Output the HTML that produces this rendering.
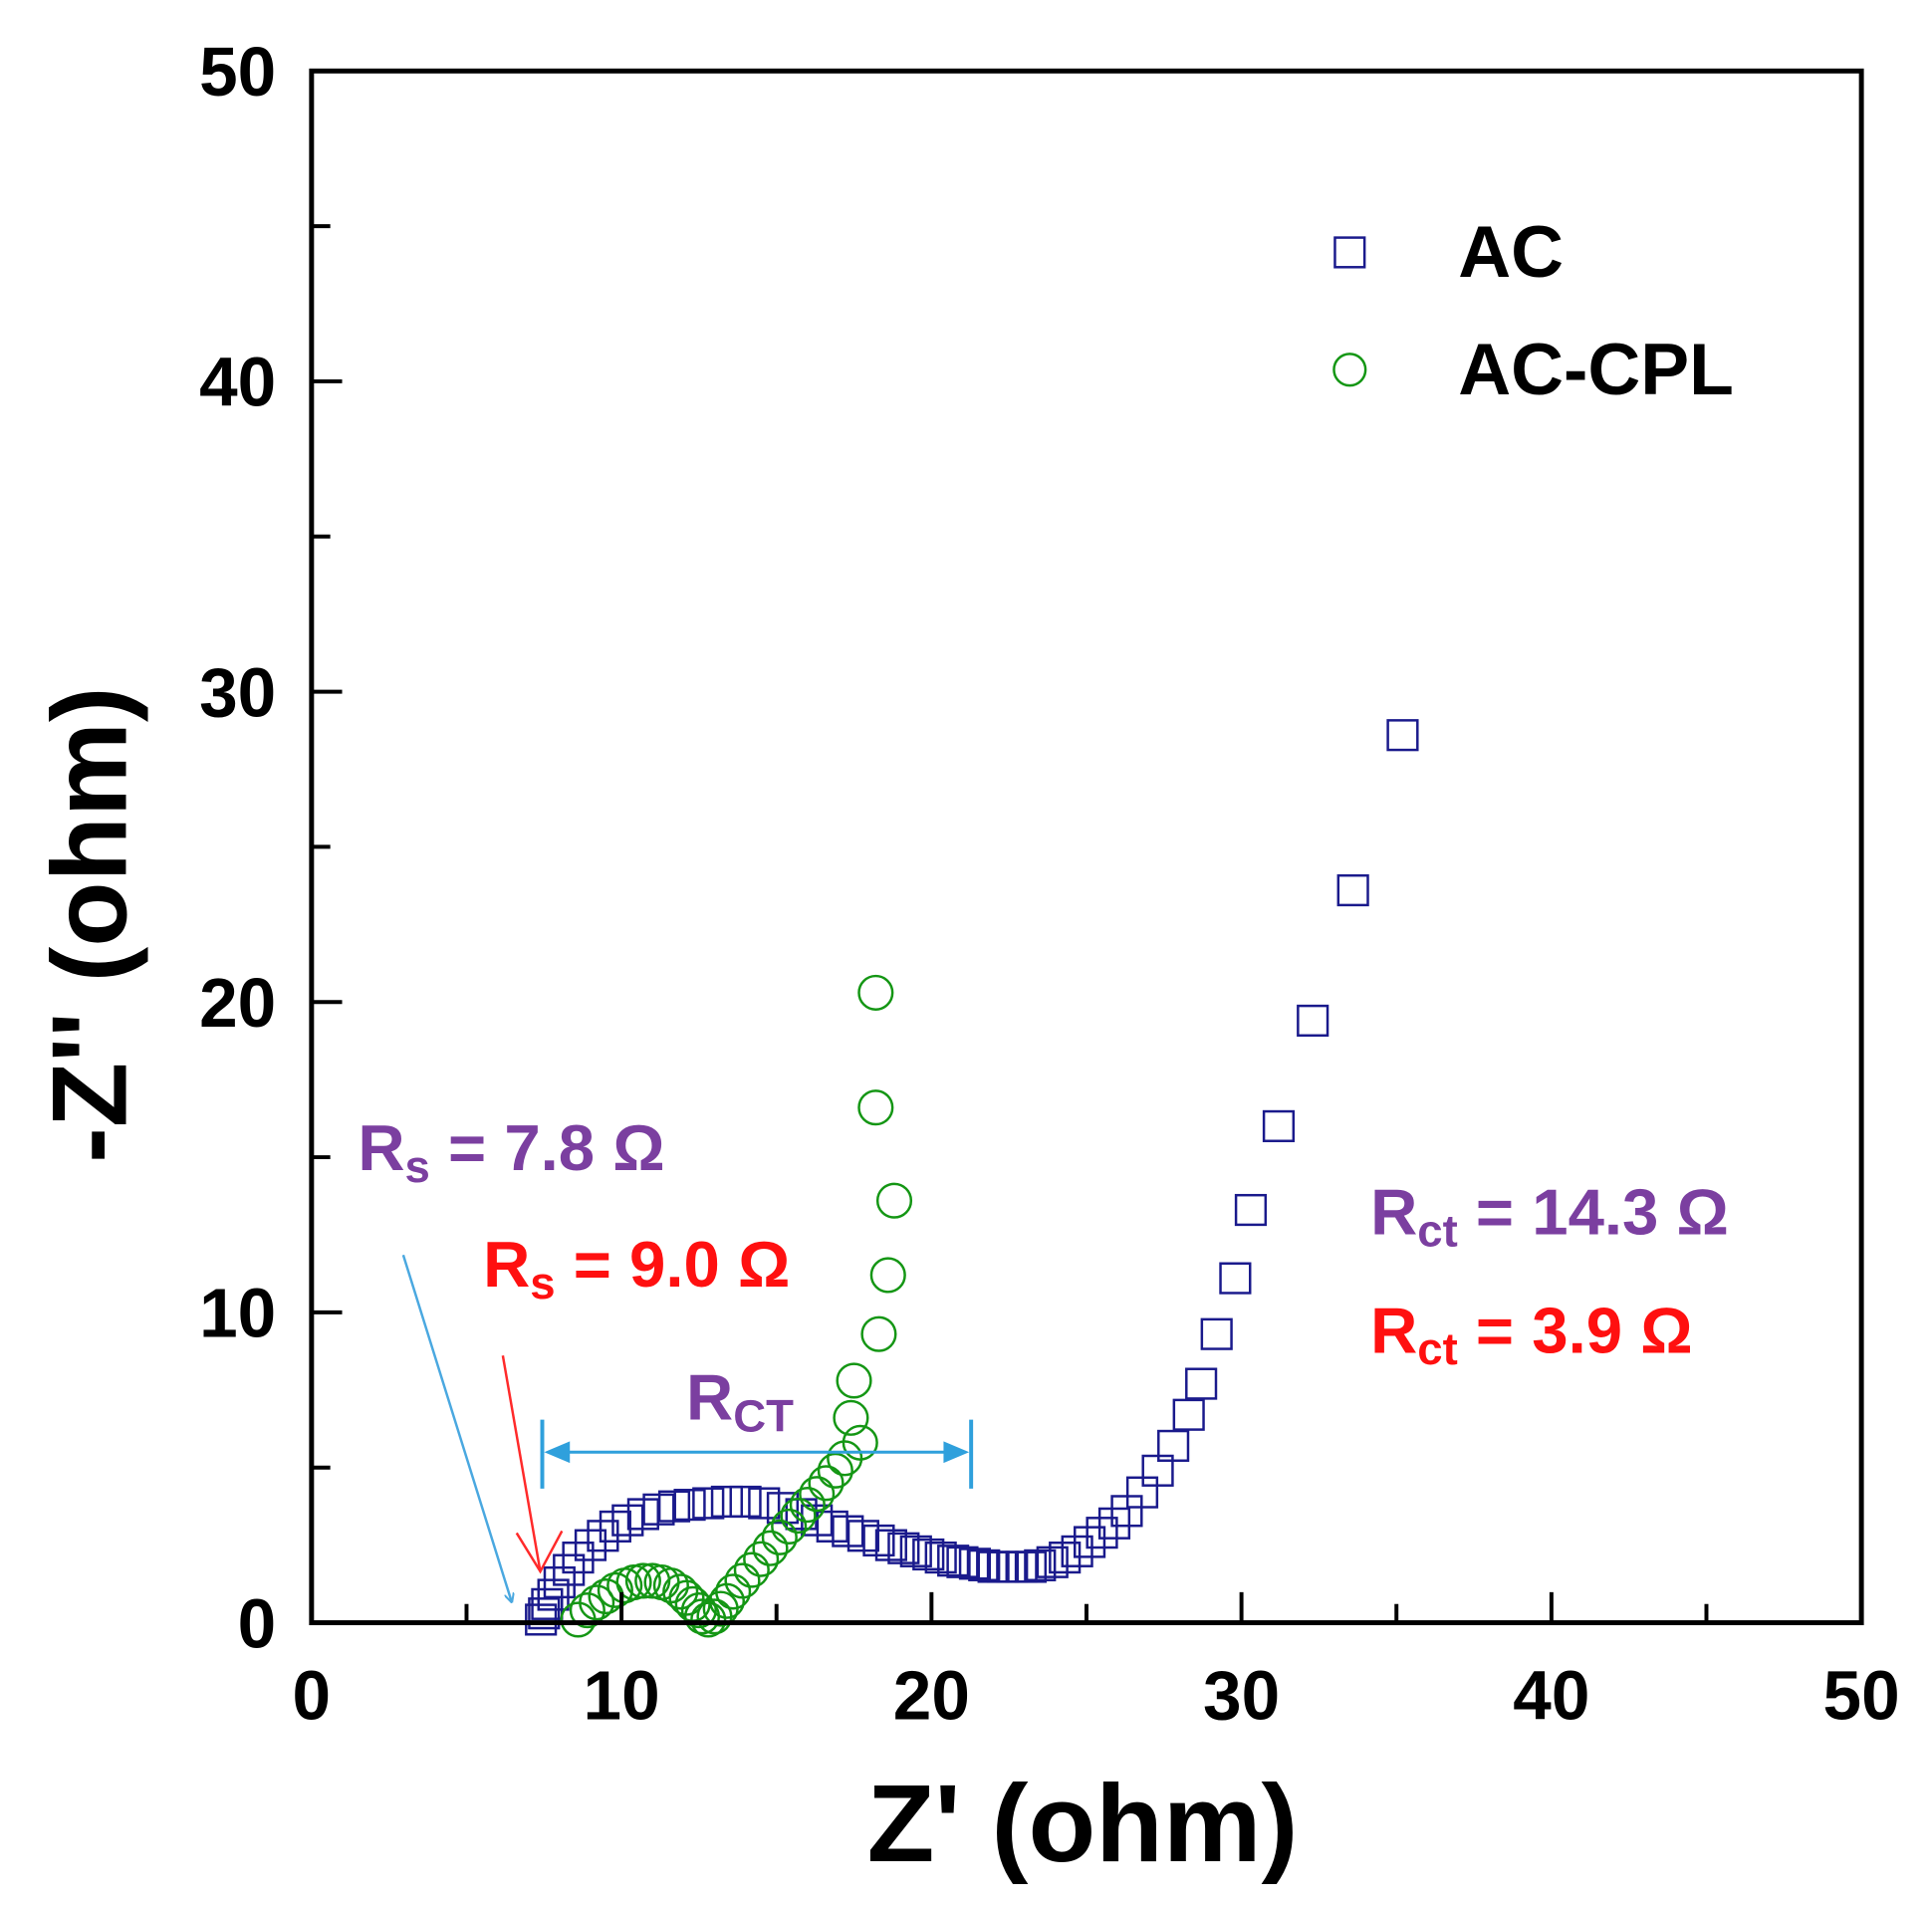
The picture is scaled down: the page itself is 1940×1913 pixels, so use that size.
<!DOCTYPE html>
<html><head><meta charset="utf-8"><style>
html,body{margin:0;padding:0;background:#fff;}
svg{display:block;font-family:"Liberation Sans",Arial,sans-serif;font-weight:bold;}
</style></head><body>
<svg id="chart" width="1940" height="1913" viewBox="0 0 1940 1913" xmlns="http://www.w3.org/2000/svg">
<defs>
<marker id="ab" markerWidth="10" markerHeight="10" refX="9" refY="5" orient="auto" markerUnits="userSpaceOnUse"><path d="M0,0 L10,5 L0,10" fill="none" stroke="#4aa8e0" stroke-width="2"/></marker>
</defs>
<g transform="scale(0.99)">
<g id="marks"></g>
<rect x="316" y="72" width="1572" height="1574" fill="none" stroke="#000" stroke-width="5"/>
<g id="axes"></g>
<text x="1098" y="1888" font-size="112" text-anchor="middle">Z' (ohm)</text>
<text transform="translate(128,938) rotate(-90)" font-size="108" text-anchor="middle">-Z'' (ohm)</text>
<g>
<rect x="1354" y="241" width="30" height="30" fill="none" stroke="#1a1a8c" stroke-width="2.5"/>
<text x="1479" y="281" font-size="74">AC</text>
<circle cx="1369" cy="375" r="16" fill="none" stroke="#149614" stroke-width="2.5"/>
<text x="1479" y="400" font-size="74">AC-CPL</text>
</g>
<text x="363" y="1187" font-size="66" fill="#7b3fa0">R<tspan font-size="46" dy="12">s</tspan><tspan dy="-12"> = 7.8 Ω</tspan></text>
<text x="490" y="1305" font-size="66" fill="#ff1010">R<tspan font-size="46" dy="12">s</tspan><tspan dy="-12"> = 9.0 Ω</tspan></text>
<text x="1390" y="1252" font-size="66" fill="#7b3fa0">R<tspan font-size="46" dy="12">ct</tspan><tspan dy="-12"> = 14.3 Ω</tspan></text>
<text x="1390" y="1372" font-size="66" fill="#ff1010">R<tspan font-size="46" dy="12">ct</tspan><tspan dy="-12"> = 3.9 Ω</tspan></text>
<text x="696" y="1440" font-size="66" fill="#7b3fa0">R<tspan font-size="46" dy="12">CT</tspan></text>
<line x1="409" y1="1273" x2="519" y2="1625" stroke="#4aa8e0" stroke-width="2.5" marker-end="url(#ab)"/>
<g>
<line x1="510" y1="1375" x2="548" y2="1594" stroke="#ff2a2a" stroke-width="2.5"/>
<path d="M524,1555 L548,1594 L570,1553" fill="none" stroke="#ff2a2a" stroke-width="2.5"/>
</g>
<g stroke="#2fa0dc" stroke-width="4">
<line x1="550" y1="1440" x2="550" y2="1510"/>
<line x1="985" y1="1440" x2="985" y2="1510"/>
<line x1="560" y1="1473" x2="975" y2="1473" stroke-width="3"/>
<path d="M552,1473 L578,1462 L578,1484 Z" fill="#2fa0dc" stroke="none"/>
<path d="M983,1473 L957,1462 L957,1484 Z" fill="#2fa0dc" stroke="none"/>
</g>
</g>
</svg>
<script>
const xTicks=[0,10,20,30,40,50];
const yTicks=[0,10,20,30,40,50];
const acX=[7.4,7.5,7.6,7.8,8.0,8.3,8.6,9.0,9.4,9.8,10.2,10.7,11.2,11.7,12.2,12.8,13.4,14.0,14.6,15.2,15.8,16.3,16.8,17.3,17.8,18.3,18.7,19.1,19.5,19.9,20.3,20.7,21.0,21.4,21.7,22.0,22.3,22.6,22.9,23.2,23.5,23.9,24.3,24.7,25.1,25.5,25.9,26.3,26.8,27.3,27.8,28.3,28.7,29.2,29.8,30.3,31.2,32.3,33.6,35.2];
const acY=[0.1,0.3,0.6,0.9,1.3,1.7,2.1,2.5,2.8,3.1,3.3,3.5,3.65,3.75,3.8,3.85,3.9,3.9,3.85,3.7,3.5,3.3,3.1,2.95,2.8,2.65,2.5,2.4,2.3,2.2,2.1,2.0,1.95,1.9,1.85,1.8,1.8,1.8,1.8,1.8,1.85,1.95,2.1,2.3,2.6,2.9,3.2,3.6,4.2,4.9,5.7,6.7,7.7,9.3,11.1,13.3,16.0,19.4,23.6,28.6];
const cplX=[8.6,8.9,9.2,9.5,9.8,10.1,10.4,10.7,11.0,11.3,11.6,11.9,12.1,12.3,12.5,12.6,12.8,13.0,13.2,13.4,13.6,13.9,14.2,14.5,14.8,15.1,15.4,15.7,16.0,16.3,16.6,16.9,17.2,17.7,17.4,17.5,18.3,18.6,18.8,18.2,18.2];
const cplY=[0.1,0.4,0.65,0.85,1.05,1.2,1.3,1.35,1.35,1.3,1.2,1.0,0.8,0.6,0.4,0.2,0.1,0.2,0.45,0.7,1.0,1.35,1.7,2.05,2.4,2.75,3.1,3.45,3.8,4.15,4.5,4.9,5.3,5.8,6.6,7.8,9.3,11.2,13.6,16.6,20.3];
const X0=316,X1=1888,Y0=1646,Y1=72;
function sx(v){return X0+(v-0)/(50-0)*(X1-X0);}
function sy(v){return Y0-(v-0)/(50-0)*(Y0-Y1);}
const NS="http://www.w3.org/2000/svg";
const marks=document.getElementById('marks'),axes=document.getElementById('axes');
for(let i=0;i<acX.length;i++){
  const r=document.createElementNS(NS,'rect');
  r.setAttribute('x',sx(acX[i])-15);r.setAttribute('y',sy(acY[i])-15);
  r.setAttribute('width',30);r.setAttribute('height',30);
  r.setAttribute('fill','none');r.setAttribute('stroke','#1a1a8c');r.setAttribute('stroke-width','2.5');
  
  
  marks.appendChild(r);
}
for(let i=0;i<cplX.length;i++){
  const c=document.createElementNS(NS,'circle');
  c.setAttribute('cx',sx(cplX[i]));c.setAttribute('cy',sy(cplY[i]));c.setAttribute('r',17);
  c.setAttribute('fill','none');c.setAttribute('stroke','#149614');c.setAttribute('stroke-width','2.5');
  
  
  marks.appendChild(c);
}
function ln(x1,y1,x2,y2,name){
  const l=document.createElementNS(NS,'line');
  l.setAttribute('x1',x1);l.setAttribute('y1',y1);l.setAttribute('x2',x2);l.setAttribute('y2',y2);
  l.setAttribute('stroke','#000');l.setAttribute('stroke-width','4');
  
  
  axes.appendChild(l);
}
function tx(x,y,s,anchor,name){
  const t=document.createElementNS(NS,'text');
  t.setAttribute('x',x);t.setAttribute('y',y);t.setAttribute('font-size','70');t.setAttribute('text-anchor',anchor);
  t.textContent=s;
  
  
  axes.appendChild(t);
}
for(let v=5;v<50;v+=5){
  const major=v%10===0, L=major?31:19;
  ln(sx(v),Y0,sx(v),Y0-L,'x-tick');
  ln(X0,sy(v),X0+L,sy(v),'y-tick');
}
xTicks.forEach(v=>tx(sx(v),1744,String(v),'middle','x-tick-label'));
yTicks.forEach(v=>tx(280,sy(v)+25,String(v),'end','y-tick-label'));
</script>
</body></html>
